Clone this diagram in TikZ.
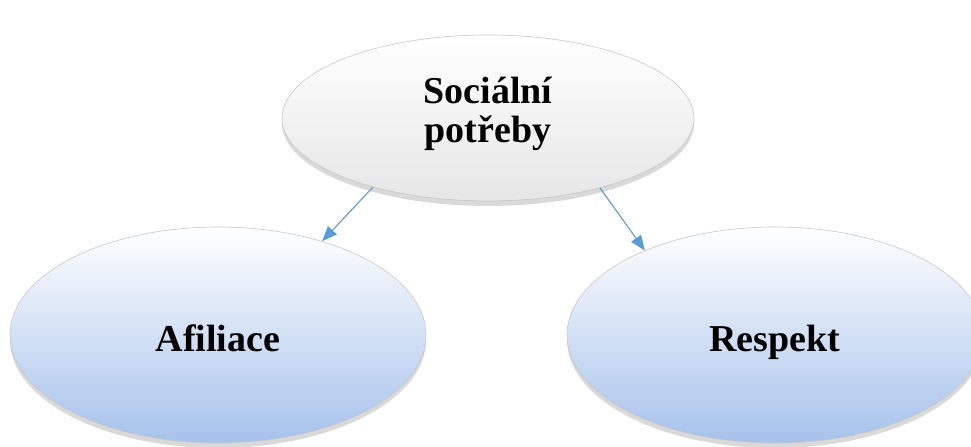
\documentclass[tikz,border=0pt]{standalone}
\usepackage{fontspec}
\setmainfont{Liberation Serif}
\usepackage{xcolor}
\usepackage{tikz}
\usetikzlibrary{positioning,arrows.meta,shapes.geometric,shadows}
\definecolor{linkblue}{RGB}{91,155,213}
\definecolor{needgray}{RGB}{222,222,222}
\definecolor{needgrayb}{RGB}{230,230,230}
\definecolor{needblue}{RGB}{196,214,240}
\definecolor{needblueb}{RGB}{166,194,235}
\tikzset{
  link/.style={-{Triangle[length=7.5pt, width=6pt]}, line width=0.55pt,
    draw=linkblue},
  need/.style={ellipse, draw=black!22, line width=0.3pt,
    top color=white, middle color=needgray, bottom color=needgrayb,
    minimum width=206pt, minimum height=83pt, align=center,
    inner sep=0pt, font=\fontsize{19}{19.5}\selectfont\bfseries,
    text depth=8.5pt,
    drop shadow={shadow xshift=0pt, shadow yshift=-2.5pt, opacity=0.3}},
  subneed/.style={need, top color=white, middle color=needblue,
    bottom color=needblueb, minimum width=208pt, minimum height=108pt,
    text height=18pt, text depth=2pt}
}

\begin{document}
\begin{tikzpicture}[x=0.5pt, y=0.5pt]
  \useasboundingbox (0,0) rectangle (971,446);
  \clip (0,0) rectangle (971,446);

  \node[need] (social) at (488,328) {Sociální\\potřeby};
  \node[subneed] (afil) at (218,111) {Afiliace};
  \node[subneed] (resp) at (775,111) {Respekt};

  \draw[link] (social.-149) -- (afil.42);
  \draw[link] (social.-32) -- (resp.147);
\end{tikzpicture}
\end{document}
